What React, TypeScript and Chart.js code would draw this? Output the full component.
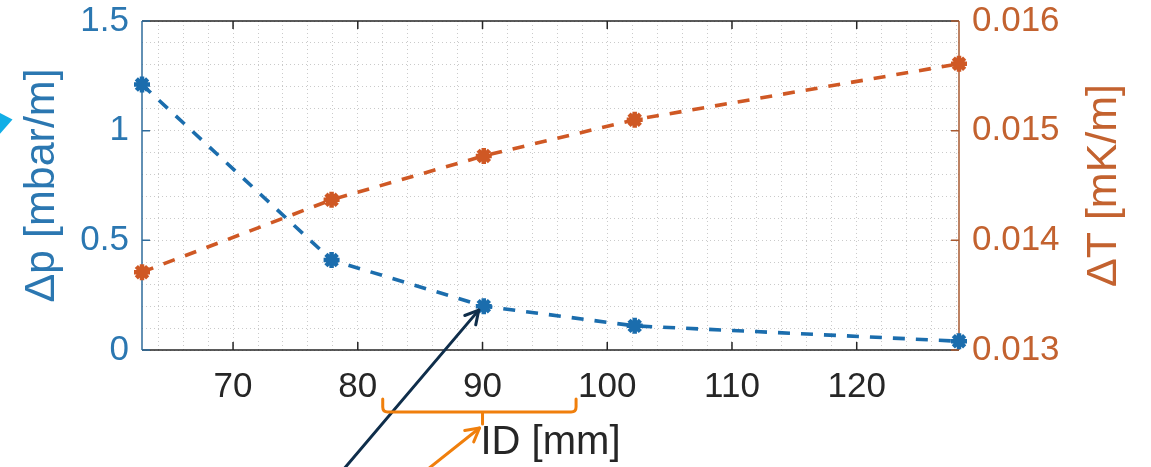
import React, { useEffect, useRef } from 'react';
import { Chart, registerables } from 'chart.js';

Chart.register(...registerables);

// ---- data ----
const ID_MM = [62.7, 77.9, 90.1, 102.2, 128.2];
const DP_MBAR_PER_M = [1.21, 0.41, 0.2, 0.11, 0.04];
const DT_MK_PER_M = [0.01371, 0.01437, 0.01477, 0.0151, 0.01561];

// ---- axes ----
const X_RANGE = [62.7, 128.2];
const X_TICKS = [70, 80, 90, 100, 110, 120];
const X_MINOR_STEP = 2;
const Y_LEFT_RANGE = [0, 1.5];
const Y_LEFT_TICKS = [0, 0.5, 1, 1.5];
const Y_LEFT_MINOR_STEP = 0.1;
const Y_RIGHT_RANGE = [0.013, 0.016];
const Y_RIGHT_TICKS = [0.013, 0.014, 0.015, 0.016];

const X_TITLE = 'ID [mm]';
const Y_LEFT_TITLE = 'Δp [mbar/m]';
const Y_RIGHT_TITLE = 'ΔT [mK/m]';

const FONT = "'Liberation Sans', Arial, Helvetica, sans-serif";
const BLUE = '#1b6dad';
const BLUE_TXT = '#2b77b1';
const ORANGE = '#cf5824';
const ORANGE_TXT = '#c3622f';
const DARK = '#262626';
const GRID = 'rgba(150,150,150,0.5)';
const TICK_FONT = 35;

function minorTicks(min: number, max: number, step: number) {
  const out: { value: number }[] = [];
  const start = Math.ceil(min / step - 1e-9);
  const end = Math.floor(max / step + 1e-9);
  for (let i = start; i <= end; i++) {
    out.push({ value: Math.round(i * step * 1e6) / 1e6 });
  }
  return out;
}

const isIn = (arr: number[], v: number) => arr.some((t) => Math.abs(t - v) < 1e-9);

function arrow(ctx: CanvasRenderingContext2D, x1: number, y1: number, x2: number, y2: number, head: number) {
  ctx.beginPath();
  ctx.moveTo(x1, y1);
  ctx.lineTo(x2, y2);
  ctx.stroke();
  const a = Math.atan2(y2 - y1, x2 - x1);
  ctx.beginPath();
  ctx.moveTo(x2 - head * Math.cos(a - 0.5), y2 - head * Math.sin(a - 0.5));
  ctx.lineTo(x2, y2);
  ctx.lineTo(x2 - head * Math.cos(a + 0.5), y2 - head * Math.sin(a + 0.5));
  ctx.stroke();
}

const zeroPad = (s: any) => {
  s.paddingTop = 0;
  s.paddingBottom = 0;
  s.paddingLeft = 0;
  s.paddingRight = 0;
};

const framePlugin = {
  id: 'frame',
  beforeDatasetsDraw(chart: any) {
    const { ctx, chartArea } = chart;
    const { left, right, top, bottom } = chartArea;
    const sx = chart.scales.x;
    const sl = chart.scales.yL;
    const sr = chart.scales.yR;
    const TL = 8;
    ctx.save();
    ctx.lineWidth = 1.5;
    ctx.strokeStyle = DARK;
    ctx.beginPath();
    ctx.moveTo(left, top);
    ctx.lineTo(right, top);
    ctx.moveTo(left, bottom);
    ctx.lineTo(right, bottom);
    for (const v of X_TICKS) {
      const p = sx.getPixelForValue(v);
      ctx.moveTo(p, bottom);
      ctx.lineTo(p, bottom - TL);
      ctx.moveTo(p, top);
      ctx.lineTo(p, top + TL);
    }
    ctx.stroke();
    ctx.strokeStyle = '#2f6c9c';
    ctx.beginPath();
    ctx.moveTo(left, top);
    ctx.lineTo(left, bottom);
    for (const v of Y_LEFT_TICKS) {
      const p = sl.getPixelForValue(v);
      ctx.moveTo(left, p);
      ctx.lineTo(left + TL, p);
    }
    ctx.stroke();
    ctx.strokeStyle = '#a95a31';
    ctx.beginPath();
    ctx.moveTo(right, top);
    ctx.lineTo(right, bottom);
    for (const v of Y_RIGHT_TICKS) {
      const p = sr.getPixelForValue(v);
      ctx.moveTo(right, p);
      ctx.lineTo(right - TL, p);
    }
    ctx.stroke();
    ctx.restore();
  },
  afterDraw(chart: any) {
    const { ctx, chartArea } = chart;
    const { top, bottom } = chartArea;
    const sx = chart.scales.x;
    const sl = chart.scales.yL;
    ctx.save();
    // right axis title (reads bottom to top)
    ctx.translate(1104, (top + bottom) / 2);
    ctx.rotate(-Math.PI / 2);
    ctx.font = `43px ${FONT}`;
    ctx.fillStyle = ORANGE_TXT;
    ctx.textAlign = 'center';
    ctx.textBaseline = 'middle';
    ctx.fillText(Y_RIGHT_TITLE, 0, 0);
    ctx.restore();

    // annotations
    ctx.save();
    // cyan arrow head at left edge
    ctx.fillStyle = '#12aee6';
    ctx.beginPath();
    ctx.moveTo(-6, 110);
    ctx.lineTo(12.5, 119.5);
    ctx.lineTo(-2, 136);
    ctx.closePath();
    ctx.fill();

    // navy arrow toward the 90 mm point
    const px = sx.getPixelForValue(ID_MM[2]);
    const py = sl.getPixelForValue(DP_MBAR_PER_M[2]);
    ctx.strokeStyle = '#0f2e4b';
    ctx.lineWidth = 3;
    ctx.lineCap = 'round';
    ctx.lineJoin = 'round';
    arrow(ctx, 343, 470, px - 5, py + 4, 15);

    // orange bracket under the 90 tick
    const bl = sx.getPixelForValue(82);
    const br = sx.getPixelForValue(97.5);
    const bm = sx.getPixelForValue(90);
    ctx.strokeStyle = '#f07f0c';
    ctx.lineWidth = 3;
    ctx.beginPath();
    ctx.moveTo(bl, 399);
    ctx.lineTo(bl, 407);
    ctx.quadraticCurveTo(bl, 412, bl + 5, 412);
    ctx.lineTo(br - 5, 412);
    ctx.quadraticCurveTo(br, 412, br, 407);
    ctx.lineTo(br, 399);
    ctx.moveTo(bm, 412);
    ctx.lineTo(bm, 424);
    ctx.stroke();
    arrow(ctx, 428, 469, bm - 3, 428, 15);
    ctx.restore();
  },
};

export default function App() {
  const ref = useRef<HTMLCanvasElement>(null);
  useEffect(() => {
    document.body.style.margin = '0';
    const canvas = ref.current!;
    const lineDs = (label: string, ys: number[], axis: string, color: string) => ({
      label,
      data: ID_MM.map((x, i) => ({ x, y: ys[i] })),
      yAxisID: axis,
      borderColor: color,
      backgroundColor: color,
      borderWidth: 3.6,
      borderDash: [12, 11],
      pointStyle: 'star',
      pointRadius: 8,
      pointBorderWidth: 4.5,
      pointBorderColor: color,
      pointBackgroundColor: color,
      tension: 0,
      fill: false,
      clip: false as any,
    });
    const chart = new Chart(canvas, {
      type: 'line',
      data: {
        datasets: [
          lineDs(Y_LEFT_TITLE, DP_MBAR_PER_M, 'yL', BLUE),
          lineDs(Y_RIGHT_TITLE, DT_MK_PER_M, 'yR', ORANGE),
        ],
      },
      options: {
        responsive: false,
        maintainAspectRatio: false,
        animation: false,
        events: [],
        layout: { padding: { top: 21, left: 0, right: 0, bottom: 0 } },
        plugins: { legend: { display: false }, tooltip: { enabled: false } },
        scales: {
          x: {
            type: 'linear',
            position: 'bottom',
            min: X_RANGE[0],
            max: X_RANGE[1],
            afterBuildTicks: (s: any) => {
              s.ticks = minorTicks(X_RANGE[0], X_RANGE[1], X_MINOR_STEP);
            },
            afterFit: (s: any) => {
              s.height = 117;
              zeroPad(s);
            },
            grid: { color: GRID, lineWidth: 1, drawTicks: false },
            border: { display: false, dash: [1, 3] },
            ticks: {
              autoSkip: false,
              maxRotation: 0,
              minRotation: 0,
              padding: 16,
              color: DARK,
              font: { family: FONT, size: TICK_FONT },
              callback: (v: any) => (isIn(X_TICKS, Number(v)) ? String(v) : ''),
            },
            title: {
              display: true,
              text: X_TITLE,
              color: DARK,
              font: { family: FONT, size: 40, lineHeight: 1.2 },
              padding: 0,
            },
          },
          yL: {
            type: 'linear',
            position: 'left',
            min: Y_LEFT_RANGE[0],
            max: Y_LEFT_RANGE[1],
            afterBuildTicks: (s: any) => {
              s.ticks = minorTicks(Y_LEFT_RANGE[0], Y_LEFT_RANGE[1], Y_LEFT_MINOR_STEP);
            },
            afterFit: (s: any) => {
              s.width = 142;
              zeroPad(s);
            },
            grid: { color: GRID, lineWidth: 1, drawTicks: false },
            border: { display: false, dash: [1, 3] },
            ticks: {
              autoSkip: false,
              padding: 13,
              color: BLUE_TXT,
              font: { family: FONT, size: TICK_FONT },
              callback: (v: any) => (isIn(Y_LEFT_TICKS, Number(v)) ? String(Number(v)) : ''),
            },
            title: {
              display: true,
              text: Y_LEFT_TITLE,
              color: BLUE_TXT,
              font: { family: FONT, size: 43, lineHeight: 1.2 },
              padding: { top: 16, bottom: 0 },
            },
          },
          yR: {
            type: 'linear',
            position: 'right',
            min: Y_RIGHT_RANGE[0],
            max: Y_RIGHT_RANGE[1],
            afterBuildTicks: (s: any) => {
              s.ticks = Y_RIGHT_TICKS.map((value) => ({ value }));
            },
            afterFit: (s: any) => {
              s.width = 192;
              zeroPad(s);
            },
            grid: { display: false, drawOnChartArea: false, drawTicks: false },
            border: { display: false },
            ticks: {
              autoSkip: false,
              padding: 13,
              color: ORANGE_TXT,
              font: { family: FONT, size: TICK_FONT },
              callback: (v: any) => Number(v).toFixed(3),
            },
            title: { display: false },
          },
        },
      },
      plugins: [framePlugin],
    } as any);
    return () => chart.destroy();
  }, []);
  return (
    <div style={{ width: 1151, height: 467, position: 'relative', overflow: 'hidden' }}>
      <canvas ref={ref} width={1151} height={467} style={{ display: 'block' }} />
    </div>
  );
}
